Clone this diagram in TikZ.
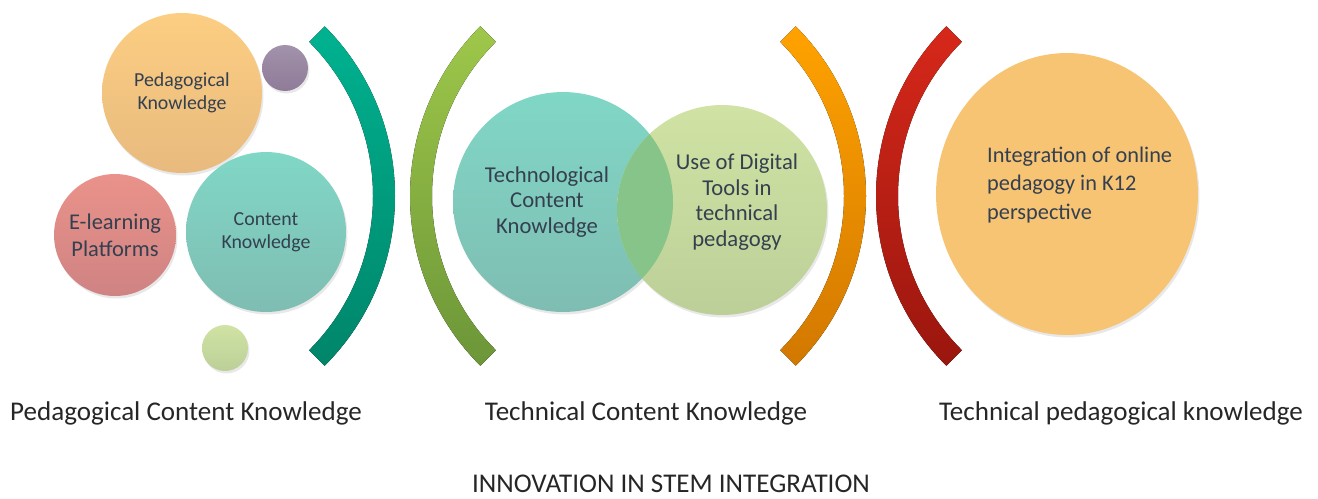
\documentclass[tikz,border=0pt]{standalone}
\usepackage{fontspec}
\setmainfont{Carlito}
\usetikzlibrary{shapes.geometric,shadows}
\definecolor{peach1}{HTML}{FCCE82}
\definecolor{peach2}{HTML}{E8BA7E}
\definecolor{plum1}{HTML}{A392AB}
\definecolor{plum2}{HTML}{8E7B98}
\definecolor{rose1}{HTML}{EA928A}
\definecolor{rose2}{HTML}{CF8383}
\definecolor{aqua1}{HTML}{80D7C6}
\definecolor{aqua2}{HTML}{7FBDB2}
\definecolor{lime1}{HTML}{D0E3A4}
\definecolor{lime2}{HTML}{BCCF98}
\definecolor{lens}{HTML}{86C489}
\definecolor{teal1}{HTML}{00B290}
\definecolor{teal2}{HTML}{00856A}
\definecolor{leaf1}{HTML}{9EC74A}
\definecolor{leaf2}{HTML}{6C9638}
\definecolor{amber1}{HTML}{FFA200}
\definecolor{amber2}{HTML}{D27800}
\definecolor{brick1}{HTML}{D6281A}
\definecolor{brick2}{HTML}{9A160E}
\definecolor{sand}{HTML}{F7C474}
\definecolor{ink}{HTML}{34404F}

\begin{document}
\begin{tikzpicture}[x=0.02cm, y=-0.02cm,
  bubble/.style={circle, inner sep=0pt, text=ink, align=center,
    drop shadow={opacity=0.18, shadow xshift=0.03cm, shadow yshift=-0.05cm}},
  caption/.style={font=\fontsize{15.4}{18}\selectfont, text=black!85}]
\useasboundingbox (0,0) rectangle (1318,498);

% left group
\node[bubble, top color=peach1, bottom color=peach2, minimum size=3.2cm,
  font=\fontsize{11.3}{13}\selectfont] (pk) at (182,93) {Pedagogical\\Knowledge};
\node[bubble, top color=plum1, bottom color=plum2, minimum size=0.92cm] (dot1) at (285,68) {};
\node[bubble, top color=rose1, bottom color=rose2, minimum size=2.44cm,
  font=\fontsize{12.8}{15.5}\selectfont] (el) at (115,235) {E-learning\\Platforms};
\node[bubble, top color=aqua1, bottom color=aqua2, minimum size=3.2cm,
  font=\fontsize{11.3}{13}\selectfont] (ck) at (266,232) {Content\\Knowledge};
\node[bubble, top color=lime1, bottom color=lime2, minimum size=0.92cm] (dot2) at (225,348) {};

% brackets
\fill[top color=teal1, bottom color=teal2] ([shift={(-45:240)}]155,196)
  arc[start angle=-45, end angle=45, radius=240] -- ([shift={(45:218)}]155,196)
  arc[start angle=45, end angle=-45, radius=218] -- cycle;
\fill[top color=leaf1, bottom color=leaf2] ([shift={(135:240)}]650,196)
  arc[start angle=135, end angle=225, radius=240] -- ([shift={(225:218)}]650,196)
  arc[start angle=225, end angle=135, radius=218] -- cycle;
\fill[top color=amber1, bottom color=amber2] ([shift={(-45:240)}]626,196)
  arc[start angle=-45, end angle=45, radius=240] -- ([shift={(45:218)}]626,196)
  arc[start angle=45, end angle=-45, radius=218] -- cycle;
\fill[top color=brick1, bottom color=brick2] ([shift={(135:240)}]1116,196)
  arc[start angle=135, end angle=225, radius=240] -- ([shift={(225:218)}]1116,196)
  arc[start angle=225, end angle=135, radius=218] -- cycle;

% middle group
\node[bubble, top color=aqua1, bottom color=aqua2, minimum size=4.4cm] (tck) at (563,202) {};
\node[bubble, top color=lime1, bottom color=lime2, minimum size=4.2cm] (udt) at (722,210) {};
\begin{scope}
  \clip (563,202) circle[radius=110];
  \fill[lens] (722,210) circle[radius=105];
\end{scope}
\node[text=ink, align=center, font=\fontsize{12.9}{14.6}\selectfont] (tckText) at (547,202)
  {Technological\\Content\\Knowledge};
\node[text=ink, align=center, font=\fontsize{12.9}{14.6}\selectfont] (udtText) at (737,202)
  {Use of Digital\\Tools in\\technical\\pedagogy};

% right group
\node[ellipse, inner sep=0pt, fill=sand, minimum width=5.24cm, minimum height=5.64cm,
  drop shadow={opacity=0.18, shadow xshift=0.03cm, shadow yshift=-0.05cm}] (ipk) at (1067,194) {};
\node[text=ink, align=left, anchor=west, font=\fontsize{12.7}{16.2}\selectfont] (ipkText) at (981,185)
  {Integration of online\\pedagogy in K12\\perspective};

% captions
\node[caption] (pckLabel) at (186,413) {Pedagogical Content Knowledge};
\node[caption] (tckLabel) at (646,413) {Technical Content Knowledge};
\node[caption] (tpkLabel) at (1121,413) {Technical pedagogical knowledge};
\node[caption, inner sep=1pt] (title) at (671,484) {INNOVATION IN STEM INTEGRATION};
\end{tikzpicture}
\end{document}
